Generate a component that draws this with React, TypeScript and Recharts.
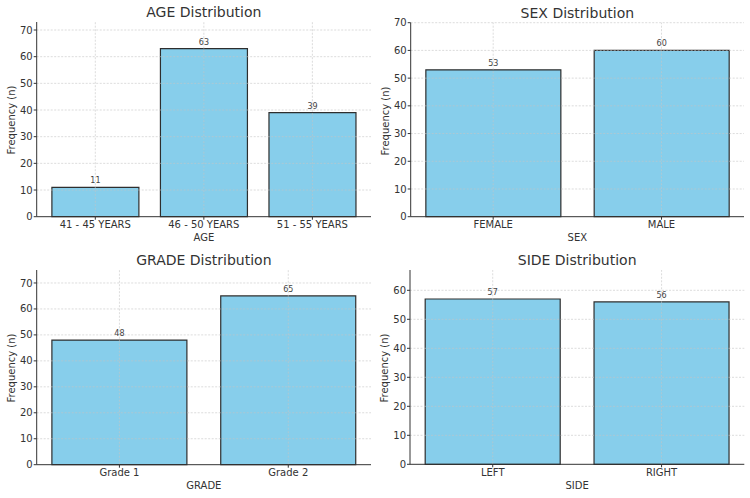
import React from "react";
import {
  Bar,
  BarChart,
  LabelList,
  ReferenceLine,
  XAxis,
  YAxis,
} from "recharts";

const ageCategories = ["41 - 45 YEARS", "46 - 50 YEARS", "51 - 55 YEARS"];
const ageCounts = [11, 63, 39];

const sexCategories = ["FEMALE", "MALE"];
const sexCounts = [53, 60];

const gradeCategories = ["Grade 1", "Grade 2"];
const gradeCounts = [48, 65];

const sideCategories = ["LEFT", "RIGHT"];
const sideCounts = [57, 56];

const ticksTo70 = [0, 10, 20, 30, 40, 50, 60, 70];
const ticksTo60 = [0, 10, 20, 30, 40, 50, 60];

type Panel = {
  title: string;
  xLabel: string;
  categories: string[];
  counts: number[];
  yTicks: number[];
};

const panels: Panel[] = [
  { title: "AGE Distribution", xLabel: "AGE", categories: ageCategories, counts: ageCounts, yTicks: ticksTo70 },
  { title: "SEX Distribution", xLabel: "SEX", categories: sexCategories, counts: sexCounts, yTicks: ticksTo70 },
  { title: "GRADE Distribution", xLabel: "GRADE", categories: gradeCategories, counts: gradeCounts, yTicks: ticksTo70 },
  { title: "SIDE Distribution", xLabel: "SIDE", categories: sideCategories, counts: sideCounts, yTicks: ticksTo60 },
];

// page-space boxes: the panel cell and its plotting area
const boxes = [
  { left: 0, top: 0, width: 375, height: 249, plotLeft: 36.7, plotRight: 371, plotTop: 22, plotBottom: 216.7 },
  { left: 375, top: 0, width: 375, height: 249, plotLeft: 410.7, plotRight: 744, plotTop: 22.7, plotBottom: 216.7 },
  { left: 0, top: 249, width: 375, height: 249, plotLeft: 36.7, plotRight: 371, plotTop: 270, plotBottom: 464.7 },
  { left: 375, top: 249, width: 375, height: 249, plotLeft: 410, plotRight: 744.3, plotTop: 270, plotBottom: 464.3 },
];

const FONT = "'DejaVu Sans', sans-serif";
const TEXT = "#333333";
const GRID = "#c4c4c4";
const Y_AXIS_W = 30;
const X_AXIS_H = 20;

type Box = (typeof boxes)[number];

function CenteredText({
  x,
  y,
  size,
  rotate,
  children,
}: {
  x: number;
  y: number;
  size: number;
  rotate?: boolean;
  children: React.ReactNode;
}) {
  return (
    <div
      style={{
        position: "absolute",
        left: x,
        top: y,
        transform: `translate(-50%, -50%)${rotate ? " rotate(-90deg)" : ""}`,
        fontSize: size,
        lineHeight: 1,
        whiteSpace: "nowrap",
        color: TEXT,
        fontFamily: FONT,
      }}
    >
      {children}
    </div>
  );
}

function DistributionPanel({ panel, box }: { panel: Panel; box: Box }) {
  const data = panel.categories.map((name, i) => ({ name, count: panel.counts[i] }));

  const margin = {
    top: box.plotTop - box.top,
    right: box.left + box.width - box.plotRight,
    left: box.plotLeft - box.left - Y_AXIS_W,
    bottom: box.top + box.height - box.plotBottom - X_AXIS_H,
  };

  // bars are 0.8 wide, x limits add 5% of the bar span on each side
  const n = data.length;
  const xRange = (n - 1 + 0.8) * 1.1;
  const unit = (box.plotRight - box.plotLeft) / xRange;
  const pad = ((xRange - n) / 2) * unit;

  const tickStyle = { fontSize: 10, fill: TEXT, fontFamily: FONT };

  return (
    <div style={{ position: "absolute", left: box.left, top: box.top }}>
      <BarChart width={box.width} height={box.height} data={data} margin={margin} barCategoryGap="10%">
        <XAxis
          dataKey="name"
          height={X_AXIS_H}
          padding={{ left: pad, right: pad }}
          tick={tickStyle}
          tickSize={3}
          tickMargin={1.2}
          stroke="#333333"
          axisLine={{ stroke: "#333333", strokeWidth: 1 }}
          tickLine={{ stroke: "#333333" }}
          interval={0}
        />
        <YAxis
          width={Y_AXIS_W}
          type="number"
          domain={[0, (dataMax: number) => dataMax + 10]}
          ticks={panel.yTicks}
          tick={tickStyle}
          tickSize={3}
          tickMargin={1}
          stroke="#333333"
          axisLine={{ stroke: "#333333", strokeWidth: 1 }}
          tickLine={{ stroke: "#333333" }}
          interval={0}
        />
        <Bar
          dataKey="count"
          fill="#87CEEB"
          stroke="#2e2e2e"
          strokeWidth={1.2}
          isAnimationActive={false}
        >
          <LabelList dataKey="count" position="top" offset={4} fill="#444444" fontSize={8} fontFamily={FONT} />
        </Bar>
        {panel.yTicks
          .filter((t) => t > 0)
          .map((t) => (
            <ReferenceLine
              key={`y${t}`}
              y={t}
              stroke={GRID}
              strokeOpacity={0.75}
              strokeWidth={0.8}
              strokeDasharray="2 1.5"
            />
          ))}
        {data.map((d) => (
          <ReferenceLine
            key={`x${d.name}`}
            x={d.name}
            stroke={GRID}
            strokeOpacity={0.75}
            strokeWidth={0.8}
            strokeDasharray="2 1.5"
          />
        ))}
      </BarChart>
    </div>
  );
}

export default function App() {
  return (
    <div
      style={{
        position: "absolute",
        left: 0,
        top: 0,
        width: 750,
        height: 498,
        background: "#ffffff",
        overflow: "hidden",
      }}
    >
      {panels.map((panel, i) => {
        const box = boxes[i];
        const midX = (box.plotLeft + box.plotRight) / 2;
        const midY = (box.plotTop + box.plotBottom) / 2;
        return (
          <React.Fragment key={panel.title}>
            <DistributionPanel panel={panel} box={box} />
            <CenteredText x={midX} y={box.plotTop - 9.7} size={14}>
              {panel.title}
            </CenteredText>
            <CenteredText x={midX} y={box.plotBottom + 21.3} size={10}>
              {panel.xLabel}
            </CenteredText>
            <CenteredText x={box.plotLeft - 25} y={midY + 1} size={10} rotate>
              Frequency (n)
            </CenteredText>
          </React.Fragment>
        );
      })}
    </div>
  );
}
